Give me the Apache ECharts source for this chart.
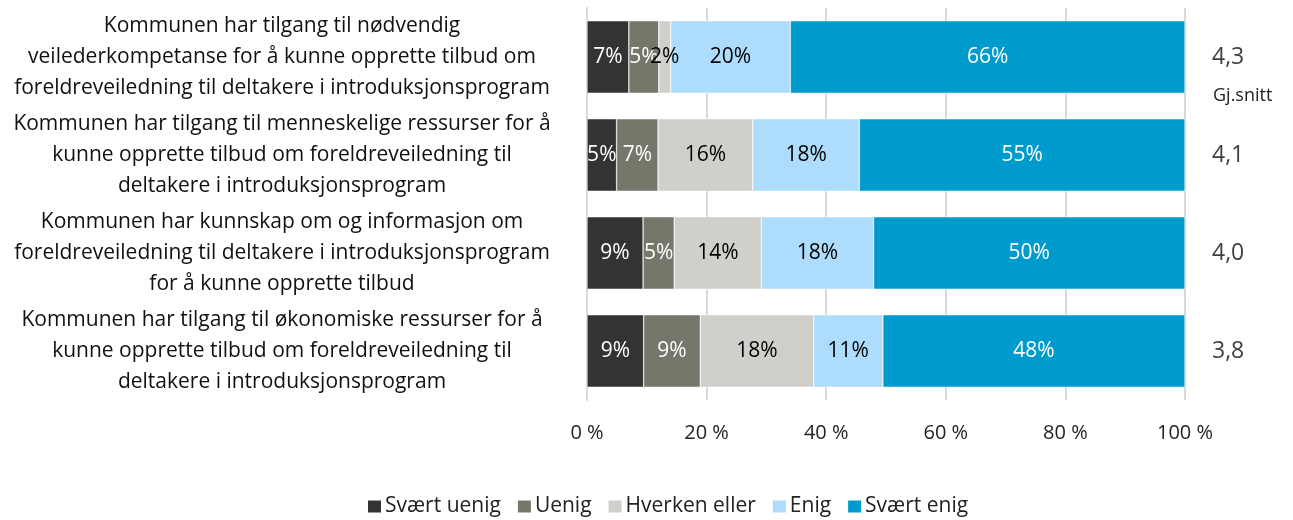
<!DOCTYPE html>
<html>
<head>
<meta charset="utf-8">
<script src="https://cdn.jsdelivr.net/npm/echarts@6/dist/echarts.min.js"></script>
<style>
  html, body { margin: 0; padding: 0; background: #fff; }
  #chart { width: 1293px; height: 520px; }
</style>
</head>
<body>
<div id="chart"></div>
<script>
// categories, top to bottom
var categories = [
    'Kommunen har tilgang til nødvendig\nveilederkompetanse for å kunne opprette tilbud om\nforeldreveiledning til deltakere i introduksjonsprogram',
    'Kommunen har tilgang til menneskelige ressurser for å\nkunne opprette tilbud om foreldreveiledning til\ndeltakere i introduksjonsprogram',
    'Kommunen har kunnskap om og informasjon om\nforeldreveiledning til deltakere i introduksjonsprogram\nfor å kunne opprette tilbud',
    'Kommunen har tilgang til økonomiske ressurser for å\nkunne opprette tilbud om foreldreveiledning til\ndeltakere i introduksjonsprogram'
];
var averages = ['4,3', '4,1', '4,0', '3,8'];

var seriesNames = ['Svært uenig', 'Uenig', 'Hverken eller', 'Enig', 'Svært enig'];
var svaertUenig = [7, 5, 9, 9];
var uenig = [5, 7, 5, 9];
var hverken = [2, 16, 14, 18];
var enig = [20, 18, 18, 11];
var svaertEnig = [66, 55, 50, 48];

var colors = ['#333333', '#76766a', '#d0cfca', '#addcfc', '#009bcd'];
var labelColors = ['#fff', '#fff', '#000', '#000', '#fff'];

var raw = [svaertUenig, uenig, hverken, enig, svaertEnig];
var totals = categories.map(function (c, i) {
    var s = 0;
    raw.forEach(function (arr) { s += arr[i]; });
    return s;
});

var series = raw.map(function (arr, k) {
    return {
        name: seriesNames[k],
        type: 'bar',
        stack: 'total',
        barWidth: '74%',
        itemStyle: { color: colors[k], borderColor: '#fff', borderWidth: 0.5 },
        label: {
            show: true,
            position: 'inside',
            color: labelColors[k],
            fontSize: 21,
            fontFamily: 'Open Sans',
            formatter: function (p) { return arr[p.dataIndex] + '%'; }
        },
        data: arr.map(function (v, i) { return v / totals[i] * 100; })
    };
});

var myChart = echarts.init(document.getElementById('chart'));
myChart.setOption({
    color: colors,
    animation: false,
    grid: { left: 587, right: 108, top: 8, bottom: 120 },
    legend: {
        left: 361,
        bottom: -2,
        itemWidth: 15,
        itemHeight: 14,
        itemGap: 15,
        icon: 'rect',
        textStyle: { fontSize: 21, color: '#222', fontFamily: 'Open Sans', padding: [0, 0, 0, -2] },
        data: seriesNames
    },
    xAxis: {
        type: 'value',
        min: 0,
        max: 100,
        interval: 20,
        axisLabel: {
            formatter: '{value} %',
            fontSize: 20,
            color: '#222',
            margin: 23,
            fontFamily: 'Open Sans'
        },
        splitLine: { lineStyle: { color: '#d9d9d9', width: 2 } },
        axisLine: { show: false },
        axisTick: { show: false }
    },
    yAxis: [{
        type: 'category',
        inverse: true,
        data: categories,
        axisLine: { show: true, lineStyle: { color: '#d9d9d9', width: 2 } },
        axisTick: { show: false },
        axisLabel: {
            align: 'center',
            margin: 305,
            fontSize: 21,
            lineHeight: 31,
            color: '#111',
            fontFamily: 'Open Sans'
        }
    }, {
        type: 'category',
        inverse: true,
        position: 'right',
        data: averages,
        axisLine: { show: false },
        axisTick: { show: false },
        axisLabel: {
            margin: 27,
            fontSize: 23,
            color: '#404040',
            padding: [0, 0, 8, 0],
            fontFamily: 'Open Sans'
        }
    }],
    graphic: [{
        type: 'text',
        left: 1213,
        top: 87,
        style: { text: 'Gj.snitt', fontSize: 18, fill: '#222', fontFamily: 'Open Sans' }
    }],
    series: series
});
</script>
</body>
</html>
